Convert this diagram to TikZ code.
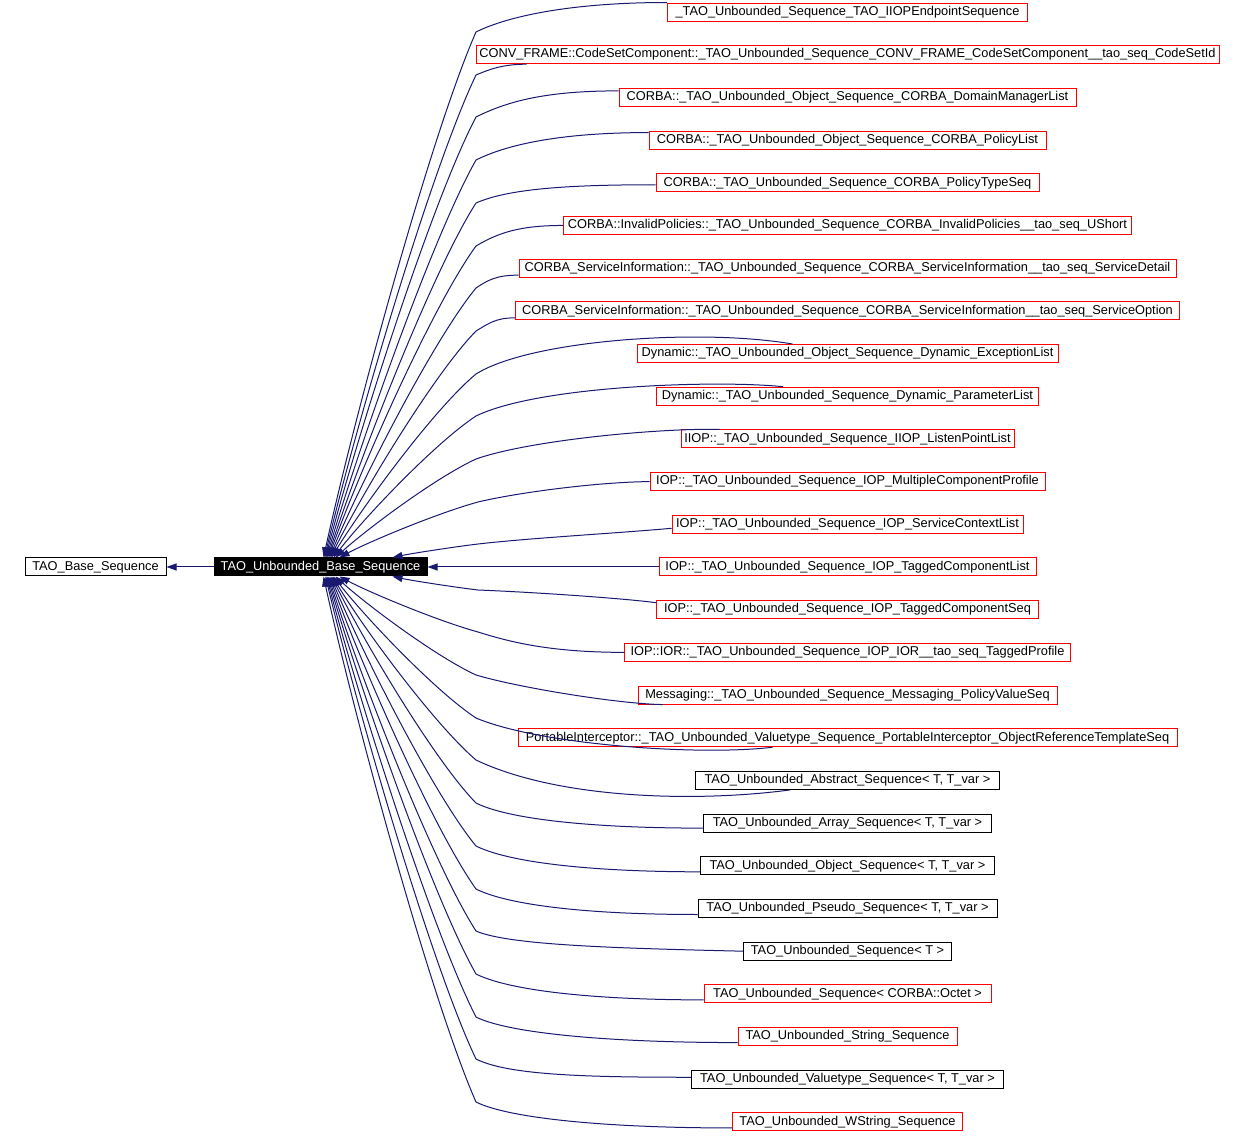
\documentclass[tikz,border=0pt]{standalone}
\usepackage{fontspec}
\setmainfont{Liberation Sans}
\usetikzlibrary{arrows.meta, positioning}
\definecolor{edgeblue}{RGB}{25,25,112}

\begin{document}
\begin{tikzpicture}[x=1pt, y=-1pt, font=\fontsize{12.8}{15}\selectfont,
  cls/.style={draw=black, fill=white, line width=1pt, inner xsep=2pt, inner ysep=0pt, minimum height=18pt},
  clsred/.style={cls, draw=red},
  cur/.style={cls, fill=black, text=white},
  inh/.style={draw=edgeblue, line width=1pt, -{Triangle[length=10pt, width=7pt]}}]
\useasboundingbox (0,0) rectangle (1244,1135);
% derived classes, one column
\node[clsred, minimum width=360pt] (iiopep) at (847.5,12) {\_TAO\_Unbounded\_Sequence\_TAO\_IIOPEndpointSequence};
\node[clsred, minimum width=743pt, below=23.69pt of iiopep] (codeset) {CONV\_FRAME::CodeSetComponent::\_TAO\_Unbounded\_Sequence\_CONV\_FRAME\_CodeSetComponent\_\_tao\_seq\_CodeSetId};
\node[clsred, minimum width=457pt, below=23.69pt of codeset] (domlist) {CORBA::\_TAO\_Unbounded\_Object\_Sequence\_CORBA\_DomainManagerList};
\node[clsred, minimum width=397pt, below=23.69pt of domlist] (pollist) {CORBA::\_TAO\_Unbounded\_Object\_Sequence\_CORBA\_PolicyList};
\node[clsred, minimum width=383pt, below=23.69pt of pollist] (poltype) {CORBA::\_TAO\_Unbounded\_Sequence\_CORBA\_PolicyTypeSeq};
\node[clsred, minimum width=568pt, below=23.69pt of poltype] (invpol) {CORBA::InvalidPolicies::\_TAO\_Unbounded\_Sequence\_CORBA\_InvalidPolicies\_\_tao\_seq\_UShort};
\node[clsred, minimum width=657pt, below=23.69pt of invpol] (svcdet) {CORBA\_ServiceInformation::\_TAO\_Unbounded\_Sequence\_CORBA\_ServiceInformation\_\_tao\_seq\_ServiceDetail};
\node[clsred, minimum width=664pt, below=23.69pt of svcdet] (svcopt) {CORBA\_ServiceInformation::\_TAO\_Unbounded\_Sequence\_CORBA\_ServiceInformation\_\_tao\_seq\_ServiceOption};
\node[clsred, minimum width=421pt, below=23.69pt of svcopt] (exclist) {Dynamic::\_TAO\_Unbounded\_Object\_Sequence\_Dynamic\_ExceptionList};
\node[clsred, minimum width=382pt, below=23.69pt of exclist] (parlist) {Dynamic::\_TAO\_Unbounded\_Sequence\_Dynamic\_ParameterList};
\node[clsred, minimum width=333pt, below=23.69pt of parlist] (lplist) {IIOP::\_TAO\_Unbounded\_Sequence\_IIOP\_ListenPointList};
\node[clsred, minimum width=395pt, below=23.69pt of lplist] (mcprof) {IOP::\_TAO\_Unbounded\_Sequence\_IOP\_MultipleComponentProfile};
\node[clsred, minimum width=351pt, below=23.69pt of mcprof] (sclist) {IOP::\_TAO\_Unbounded\_Sequence\_IOP\_ServiceContextList};
\node[clsred, minimum width=377pt, below=23.69pt of sclist] (tclist) {IOP::\_TAO\_Unbounded\_Sequence\_IOP\_TaggedComponentList};
\node[clsred, minimum width=382pt, below=23.69pt of tclist] (tcseq) {IOP::\_TAO\_Unbounded\_Sequence\_IOP\_TaggedComponentSeq};
\node[clsred, minimum width=446pt, below=23.69pt of tcseq] (tprof) {IOP::IOR::\_TAO\_Unbounded\_Sequence\_IOP\_IOR\_\_tao\_seq\_TaggedProfile};
\node[clsred, minimum width=419pt, below=23.69pt of tprof] (pvseq) {Messaging::\_TAO\_Unbounded\_Sequence\_Messaging\_PolicyValueSeq};
\node[clsred, minimum width=659pt, below=23.69pt of pvseq] (ortseq) {PortableInterceptor::\_TAO\_Unbounded\_Valuetype\_Sequence\_PortableInterceptor\_ObjectReferenceTemplateSeq};
\node[cls, minimum width=304pt, below=23.69pt of ortseq] (abst) {TAO\_Unbounded\_Abstract\_Sequence< T, T\_var >};
\node[cls, minimum width=288pt, below=23.69pt of abst] (arr) {TAO\_Unbounded\_Array\_Sequence< T, T\_var >};
\node[cls, minimum width=294pt, below=23.69pt of arr] (obj) {TAO\_Unbounded\_Object\_Sequence< T, T\_var >};
\node[cls, minimum width=299pt, below=23.69pt of obj] (pseudo) {TAO\_Unbounded\_Pseudo\_Sequence< T, T\_var >};
\node[cls, minimum width=208pt, below=23.69pt of pseudo] (seqt) {TAO\_Unbounded\_Sequence< T >};
\node[clsred, minimum width=287pt, below=23.69pt of seqt] (octet) {TAO\_Unbounded\_Sequence< CORBA::Octet >};
\node[clsred, minimum width=219pt, below=23.69pt of octet] (str) {TAO\_Unbounded\_String\_Sequence};
\node[cls, minimum width=312pt, below=23.69pt of str] (vt) {TAO\_Unbounded\_Valuetype\_Sequence< T, T\_var >};
\node[clsred, minimum width=230pt, below=23.69pt of vt] (wstr) {TAO\_Unbounded\_WString\_Sequence};
% the base classes
\node[cur, minimum width=213pt, left=231pt of tclist] (ubase) {TAO\_Unbounded\_Base\_Sequence};
\node[cls, minimum width=141pt, left=47pt of ubase] (tbase) {TAO\_Base\_Sequence};
\draw[inh] (ubase) -- (tbase);
% edges from above
\draw[inh] (iiopep.north west) .. controls +(-95,0) and +(32,-16) .. (476,32) .. controls +(-44,100) and +(33,-150) .. ([xshift=110pt]ubase.north west);
\draw[inh] ([xshift=51pt]codeset.south west) .. controls +(-25,0) and +(12,-5) .. (476,75) .. controls +(-44,92) and +(33,-138) .. ([xshift=111pt]ubase.north west);
\draw[inh] ([yshift=-3pt]domlist.north west) .. controls +(-72,0) and +(32,-16) .. (476,117) .. controls +(-44,84) and +(33,-126) .. ([xshift=112pt]ubase.north west);
\draw[inh] ([yshift=-2pt]pollist.north west) .. controls +(-86,0) and +(32,-16) .. (476,160) .. controls +(-43,76) and +(33,-113) .. ([xshift=113pt]ubase.north west);
\draw[inh] ([yshift=-2pt]poltype.west) .. controls +(-90,0) and +(32,-14) .. (476,203) .. controls +(-43,67) and +(33,-101) .. ([xshift=114pt]ubase.north west);
\draw[inh] (invpol.west) .. controls +(-44,0) and +(22,-13) .. (476,246) .. controls +(-43,59) and +(32,-89) .. ([xshift=115pt]ubase.north west);
\draw[inh] ([yshift=-7pt]svcdet.west) .. controls +(-22,0) and +(12,-8) .. (476,288) .. controls +(-42,51) and +(32,-77) .. ([xshift=116pt]ubase.north west);
\draw[inh] ([yshift=-7pt]svcopt.west) .. controls +(-20,0) and +(12,-7) .. (476,331) .. controls +(-42,43) and +(32,-65) .. ([xshift=117pt]ubase.north west);
\draw[inh] ([xshift=156pt]exclist.north west) .. controls (700,328) and (530,340) .. (476,374) .. controls +(-42,35) and +(32,-52) .. ([xshift=118pt]ubase.north west);
\draw[inh] ([xshift=127pt]parlist.north west) .. controls (720,380) and (540,385) .. (476,416) .. controls +(-41,27) and +(31,-40) .. ([xshift=120pt]ubase.north west);
\draw[inh] ([xshift=39pt]lplist.north west) .. controls (660,428) and (530,440) .. (476,459) .. controls +(-41,19) and +(31,-28) .. ([xshift=122pt]ubase.north west);
\draw[inh] (mcprof.west) .. controls (600,482) and (520,492) .. (478,502) .. controls +(-40,11) and +(30,-16) .. ([xshift=126pt]ubase.north west);
\draw[inh] ([yshift=-4pt]sclist.west) .. controls (620,533) and (530,538) .. (478,544) .. controls +(-25,3) and +(19,-4) .. ([xshift=179pt]ubase.north west);
\draw[inh] (tclist) -- (ubase);
% edges from below
\draw[inh] ([yshift=7pt]tcseq.west) .. controls (620,598) and (530,592) .. (478,590) .. controls +(-25,-3) and +(19,4) .. ([xshift=179pt]ubase.south west);
\draw[inh] (tprof.west) .. controls +(-74,0) and +(32,10) .. (478,632) .. controls +(-40,-11) and +(30,16) .. ([xshift=126pt]ubase.south west);
\draw[inh] ([xshift=25pt]pvseq.south west) .. controls (620,704) and (520,688) .. (476,675) .. controls +(-41,-19) and +(31,28) .. ([xshift=122pt]ubase.south west);
\draw[inh] ([xshift=255pt]ortseq.south west) .. controls (700,756) and (540,745) .. (476,718) .. controls +(-41,-27) and +(31,40) .. ([xshift=120pt]ubase.south west);
\draw[inh] ([xshift=95pt]abst.south west) .. controls (700,802) and (560,800) .. (476,760) .. controls +(-41,-35) and +(31,52) .. ([xshift=119pt]ubase.south west);
\draw[inh] ([yshift=-5pt]arr.west) .. controls +(-113,0) and +(32,16) .. (476,803) .. controls +(-42,-43) and +(32,64) .. ([xshift=118pt]ubase.south west);
\draw[inh] ([yshift=-6pt]obj.west) .. controls +(-112,0) and +(32,16) .. (476,846) .. controls +(-42,-51) and +(32,77) .. ([xshift=117pt]ubase.south west);
\draw[inh] ([yshift=-6pt]pseudo.west) .. controls +(-111,0) and +(32,16) .. (476,889) .. controls +(-42,-59) and +(32,89) .. ([xshift=116pt]ubase.south west);
\draw[inh] (seqt.west) .. controls +(-130,-3) and +(32,14) .. (476,931) .. controls +(-43,-67) and +(32,101) .. ([xshift=115pt]ubase.south west);
\draw[inh] ([yshift=-6pt]octet.west) .. controls +(-114,0) and +(32,16) .. (476,974) .. controls +(-43,-76) and +(33,113) .. ([xshift=114pt]ubase.south west);
\draw[inh] ([yshift=-6pt]str.west) .. controls +(-131,0) and +(32,16) .. (476,1017) .. controls +(-43,-84) and +(33,126) .. ([xshift=113pt]ubase.south west);
\draw[inh] ([yshift=2pt]vt.west) .. controls +(-107,0) and +(32,16) .. (476,1059) .. controls +(-44,-92) and +(33,138) .. ([xshift=112pt]ubase.south west);
\draw[inh] ([yshift=-6pt]wstr.west) .. controls +(-128,0) and +(32,16) .. (476,1102) .. controls +(-44,-100) and +(33,150) .. ([xshift=110pt]ubase.south west);
\end{tikzpicture}
\end{document}
